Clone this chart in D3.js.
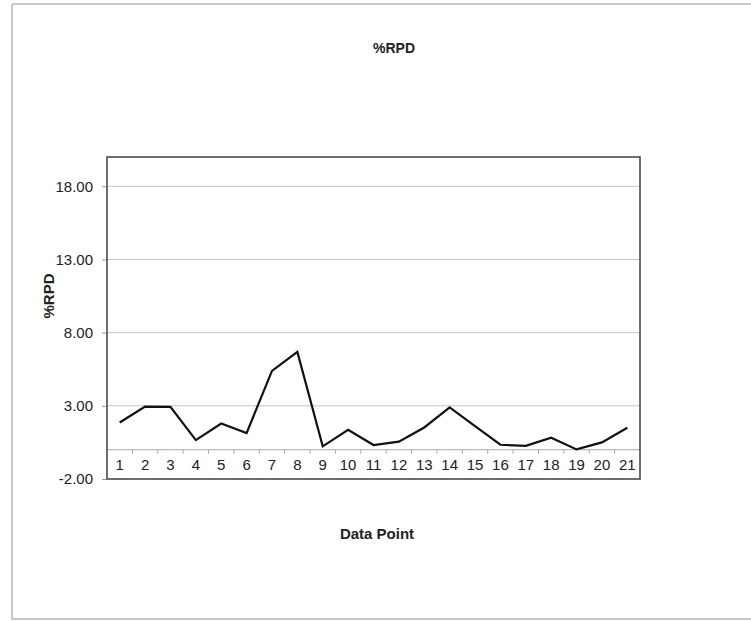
<!DOCTYPE html>
<html>
<head>
<meta charset="utf-8">
<script src="https://cdn.jsdelivr.net/npm/d3@7"></script>
<style>
  html, body { margin: 0; padding: 0; background: #fff; }
  svg { display: block; font-family: "Liberation Sans", Arial, sans-serif; }
</style>
</head>
<body>
<svg id="chart" width="751" height="621"></svg>
<script>
// Category labels along the x axis
const dataPoints = ["1","2","3","4","5","6","7","8","9","10","11","12","13","14","15","16","17","18","19","20","21"];
// %RPD value for each data point
const rpdValues = [1.86, 2.95, 2.93, 0.66, 1.79, 1.14, 5.39, 6.68, 0.23, 1.36, 0.32, 0.55, 1.52, 2.89, 1.61, 0.34, 0.27, 0.82, 0.02, 0.50, 1.50];
// Value axis ticks
const yTicks = [-2, 3, 8, 13, 18];
const yDomain = [-2, 20];

const svg = d3.select("#chart");
const plot = { left: 107, right: 640, top: 157, bottom: 479 };

// Number format with a plain hyphen for negatives
const fmt = d3.formatLocale({ decimal: ".", thousands: ",", grouping: [3], currency: ["", ""], minus: "-" }).format(".2f");

// Outer chart frame
svg.append("path")
  .attr("d", "M12,4 H751 M12,4 V619 H751")
  .attr("fill", "none")
  .attr("stroke", "#b8b8b8")
  .attr("stroke-width", 1.5);

const x = d3.scaleBand().domain(dataPoints).range([plot.left, plot.right]).padding(0);
const y = d3.scaleLinear().domain(yDomain).range([plot.bottom, plot.top]);

// Horizontal gridlines
svg.append("g")
  .selectAll("line")
  .data(yTicks.filter(v => v > yDomain[0]))
  .join("line")
  .attr("x1", plot.left).attr("x2", plot.right)
  .attr("y1", d => y(d)).attr("y2", d => y(d))
  .attr("stroke", "#c4c4c4")
  .attr("stroke-width", 1);

// Value axis labels
const yAxis = svg.append("g")
  .attr("transform", `translate(${plot.left},0)`)
  .call(d3.axisLeft(y).tickValues(yTicks).tickFormat(fmt).tickSize(5).tickPadding(9));
yAxis.select(".domain").remove();
yAxis.selectAll(".tick line").attr("stroke", "#999");
yAxis.selectAll(".tick text")
  .attr("fill", "#222")
  .style("font-size", "15px");

// Category axis line crossing at zero, with boundary tick marks
const y0 = y(0);
svg.append("line")
  .attr("x1", plot.left).attr("x2", plot.right)
  .attr("y1", y0).attr("y2", y0)
  .attr("stroke", "#a8a8a8")
  .attr("stroke-width", 1);
svg.append("g")
  .selectAll("line")
  .data(dataPoints.slice(1))
  .join("line")
  .attr("x1", d => x(d)).attr("x2", d => x(d))
  .attr("y1", y0).attr("y2", y0 + 4)
  .attr("stroke", "#a8a8a8");

// Category labels placed low, under the axis
const xAxis = svg.append("g")
  .attr("transform", `translate(0,${y0 + 10})`)
  .call(d3.axisBottom(x).tickSize(0).tickPadding(0));
xAxis.select(".domain").remove();
xAxis.selectAll(".tick text")
  .attr("fill", "#222")
  .style("font-size", "15px");

// Data line
const line = d3.line()
  .x((d, i) => x(dataPoints[i]) + x.bandwidth() / 2)
  .y(d => y(d));
svg.append("path")
  .datum(rpdValues)
  .attr("d", line)
  .attr("fill", "none")
  .attr("stroke", "#111")
  .attr("stroke-width", 2.2)
  .attr("stroke-linejoin", "miter");

// Plot area border
svg.append("rect")
  .attr("x", plot.left).attr("y", plot.top)
  .attr("width", plot.right - plot.left)
  .attr("height", plot.bottom - plot.top)
  .attr("fill", "none")
  .attr("stroke", "#4a4a4a")
  .attr("stroke-width", 1.6);

// Titles
svg.append("text")
  .attr("x", 394).attr("y", 53)
  .attr("text-anchor", "middle")
  .style("font-size", "14px").style("font-weight", "bold")
  .attr("fill", "#222")
  .text("%RPD");

svg.append("text")
  .attr("x", 377).attr("y", 539)
  .attr("text-anchor", "middle")
  .style("font-size", "15px").style("font-weight", "bold")
  .attr("fill", "#222")
  .text("Data Point");

svg.append("text")
  .attr("transform", "translate(54,296) rotate(-90)")
  .attr("text-anchor", "middle")
  .style("font-size", "15px").style("font-weight", "bold")
  .attr("fill", "#222")
  .text("%RPD");
</script>
</body>
</html>
